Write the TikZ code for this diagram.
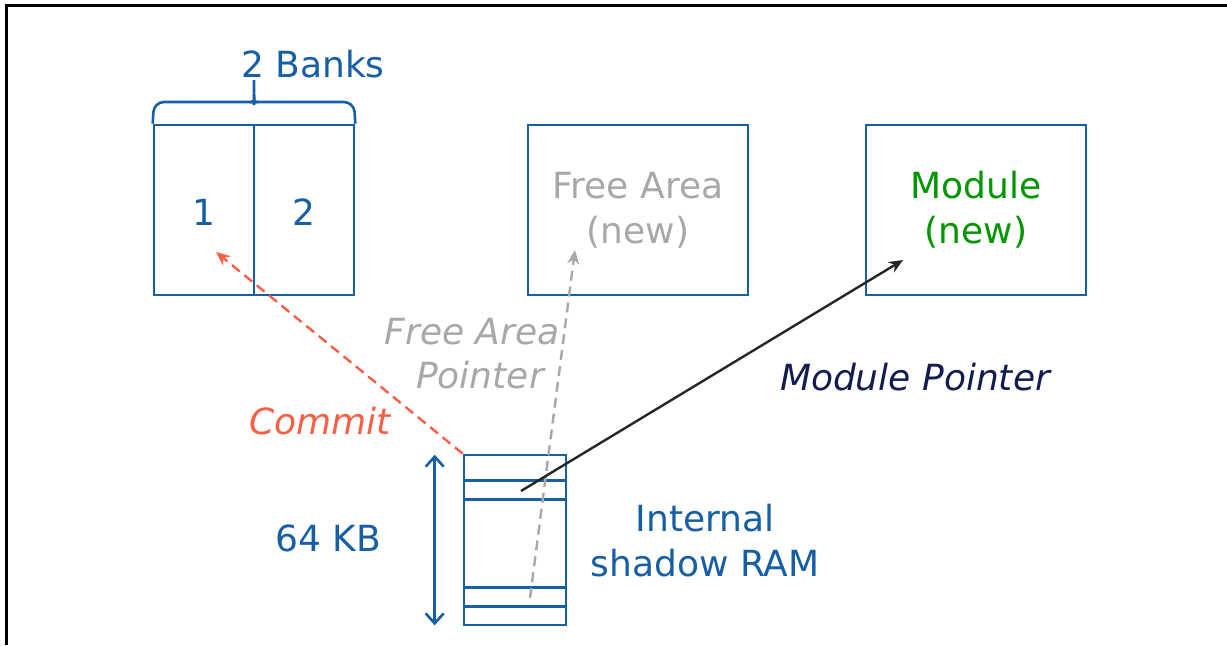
\documentclass[tikz,border=0pt]{standalone}
\usepackage{fontspec}
\setmainfont{DejaVu Sans}
\usepackage{xcolor}
\usetikzlibrary{arrows.meta, positioning, calc}

\definecolor{bankblue}{RGB}{22,94,166}
\definecolor{freegrey}{RGB}{168,168,168}
\definecolor{modgreen}{RGB}{0,150,0}
\definecolor{commitred}{RGB}{250,95,70}
\definecolor{ptrnavy}{RGB}{18,28,80}

\begin{document}
\begin{tikzpicture}[x=0.5pt, y=-0.5pt, font=\fontsize{18}{22.5}\selectfont,
    memblock/.style={draw=bankblue, line width=1.3pt, minimum width=110pt,
        minimum height=85pt, inner sep=0pt, align=center},
    bluetext/.style={text=bankblue, align=center},
    ptrtext/.style={font=\fontsize{18}{22}\selectfont\itshape, align=center},
    >={Stealth[length=7pt, width=6pt]}]
    \useasboundingbox (0,0) rectangle (1227,645);

    % Frame
    \draw[line width=1.5pt] (6,645) -- (6,5) -- (1227,5);

    % Flash banks
    \node[memblock, minimum width=100pt] (banks) at (254,210) {};
    \draw[bankblue, line width=1.3pt] (banks.north) -- (banks.south);
    \node[bluetext] (bank1) at (204,212) {1};
    \node[bluetext] (bank2) at (304,212) {2};
    % Brace over both banks
    \coordinate (bracetip) at (254,80);
    \draw[bankblue, line width=1.3pt, rounded corners=5pt]
        (banks.north west) -- (154,102) -- (248,102)
        .. controls (252,102) and (254,100) .. (254,95) -- (bracetip);
    \draw[bankblue, line width=1.3pt, rounded corners=5pt]
        (banks.north east) -- (354,102) -- (260,102)
        .. controls (256,102) and (254,100) .. (254,95);
    \node[bluetext] (banktitle) at (313,64) {2 Banks};

    % Target boxes
    \node[memblock, text=freegrey] (free) at (638,210) {Free Area\\(new)};
    \node[memblock, text=modgreen] (module) at (976,210) {Module\\(new)};

    % Internal shadow RAM
    \node[memblock, minimum width=51pt] (ram) at (515,540) {};
    \foreach \dy in {27,46,134,153}
        \draw[bankblue, line width=1.3pt] ($(ram.north west)+(0,\dy)$) -- ($(ram.north east)+(0,\dy)$);
    \coordinate (sizetop) at ($(ram.north west)+(-28,1)$);
    \coordinate (sizebot) at ($(ram.south west)+(-28,-1)$);
    \draw[bankblue, line width=1.3pt, {Straight Barb[length=5pt, width=9pt]}-{Straight Barb[length=5pt, width=9pt]}] (sizetop) -- (sizebot);
    \node[bluetext] (ramsize) at (328,538) {64 KB};
    \node[bluetext] (ramname) at (705,541) {Internal\\shadow RAM};

    % Pointers
    \coordinate (committip) at (216,252);
    \coordinate (freeptr) at (530,598);
    \coordinate (freetip) at (575,250);
    \coordinate (modptr) at (521,491);
    \coordinate (modtip) at (903,260);
    \draw[->, commitred, line width=1.2pt, dash pattern=on 5pt off 3pt] (ram.north west) -- (committip);
    \draw[->, freegrey, line width=1.2pt, dash pattern=on 5pt off 3pt] (freeptr) -- (freetip);
    \draw[->, black!85, line width=1.2pt] (modptr) -- (modtip);

    % Pointer labels
    \node[ptrtext, text=commitred] (commitlbl) at (320,421) {Commit};
    \node[ptrtext, text=freegrey] (freelbl) at (472,354) {Free Area\\\hspace*{8pt}Pointer};
    \node[ptrtext, text=ptrnavy] (modlbl) at (915,377) {Module Pointer};
\end{tikzpicture}
\end{document}
